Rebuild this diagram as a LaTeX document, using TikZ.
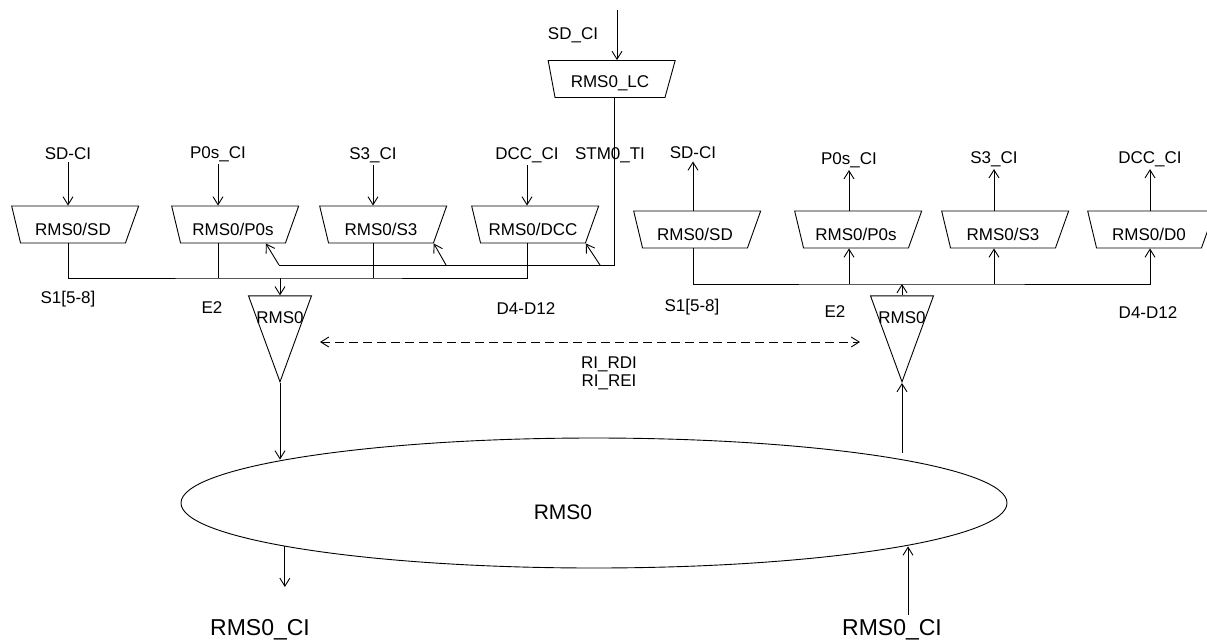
\documentclass[tikz,border=0pt]{standalone}
\usepackage{fontspec}
\setmainfont{Liberation Sans}
\usetikzlibrary{shapes.geometric,arrows.meta}
\newcommand{\lbl}{\fontsize{17pt}{18pt}\selectfont}
\newcommand{\midlbl}{\fontsize{21pt}{22pt}\selectfont}
\newcommand{\biglbl}{\fontsize{23pt}{24pt}\selectfont}
\newcommand{\mtxt}[1]{\makebox[0pt]{#1}}
\tikzset{
  mux/.style={draw,trapezium,shape border rotate=180,trapezium stretches body=true,
    trapezium left angle=59,trapezium right angle=68,minimum width=127pt,
    minimum height=37pt,inner sep=0pt,text height=22pt,text depth=0pt,font=\lbl},
  tri/.style={draw,isosceles triangle,shape border rotate=270,anchor=apex,
    isosceles triangle stretches=true,minimum width=63pt,minimum height=86pt,
    inner sep=0pt},
  sig/.style={font=\lbl,inner sep=2pt},
  big/.style={font=\biglbl,inner sep=0pt},
  arr/.style={-{Straight Barb[length=8pt,width=10pt]}},
  darr/.style={{Straight Barb[length=8pt,width=10pt]}-{Straight Barb[length=8pt,width=10pt]},
    dash pattern=on 9pt off 5pt},
}
\begin{document}
\begin{tikzpicture}[x=1pt,y=-1pt,line width=0.9pt]
\useasboundingbox (0,0) rectangle (1207,643);

% local control
\node[sig] (topin) at (573,35) {SD\_CI};
\node[mux,text height=17pt] (llc) at (610,79) {\mtxt{RMS0\_LC}};
\coordinate (lctop) at (617,10);

% left side
\node[sig] (lsdin) at (68,154) {SD-CI};
\node[sig] (lp0sin) at (218,154) {P0s\_CI};
\node[sig] (ls3in) at (373,155) {S3\_CI};
\node[sig] (ldccin) at (527,155) {DCC\_CI};
\node[sig] (stm) at (610,155) {STM0\_TI};
\node[mux] (lsd) at (73,224.5) {\mtxt{RMS0/SD}};
\node[mux] (lp0s) at (233,224.5) {\mtxt{RMS0/P0s}};
\node[mux] (ls3) at (381,224.5) {\mtxt{RMS0/S3}};
\node[mux] (ldcc) at (533,224.5) {\mtxt{RMS0/DCC}};
\node[sig] (ls1) at (68,299) {S1[5-8]};
\node[sig] (le2) at (212,308) {E2};
\node[sig] (ld4) at (526,309) {D4-D12};
\node[tri,label={[font=\lbl,inner sep=0pt,anchor=north,yshift=-16pt]90:RMS0}] (ltri) at (280,383) {};
\coordinate (lbus) at (280,278);
\coordinate (fbe) at (614,265);
\coordinate (fbw) at (279,265);
\coordinate (fb3) at (446,265);
\coordinate (fbd) at (600,265);

% right side
\node[sig] (rsdout) at (693,153) {SD-CI};
\node[sig] (rp0sout) at (849,160) {P0s\_CI};
\node[sig] (rs3out) at (994,159) {S3\_CI};
\node[sig] (rdcout) at (1150,159) {DCC\_CI};
\node[mux] (rsd) at (695,229.5) {\mtxt{RMS0/SD}};
\node[mux] (rp0s) at (856,229.5) {\mtxt{RMS0/P0s}};
\node[mux] (rs3) at (1003,229.5) {\mtxt{RMS0/S3}};
\node[mux] (rd0) at (1149,229.5) {\mtxt{RMS0/D0}};
\node[sig] (rs1) at (692,307) {S1[5-8]};
\node[sig] (re2) at (835,312) {E2};
\node[sig] (rd4) at (1148,313) {D4-D12};
\node[tri,label={[font=\lbl,inner sep=0pt,anchor=north,yshift=-16pt]90:RMS0}] (rtri) at (902,383) {};
\coordinate (rbus) at (902,284);

% ring
\coordinate (dl) at (320,342);
\coordinate (dr) at (860,342);
\node[sig,align=center,font=\fontsize{17pt}{18pt}\selectfont] (ri) at (609,373) {RI\_RDI\\RI\_REI};
\node[draw,ellipse,minimum width=826pt,minimum height=130pt,inner sep=0pt,
  label={[font=\midlbl,xshift=-31pt,yshift=-9pt]center:RMS0}] (ring) at (594,503) {};
\coordinate (lend) at (286,587);
\coordinate (rup) at (902,453);
\coordinate (rstart) at (908,615);
\node[big] (lout) at (260,630) {RMS0\_CI};
\node[big] (rout) at (892,630) {RMS0\_CI};

\draw[arr] (lctop) -- (lctop |- llc.90);
\draw[arr] (lsdin.south) -- (lsdin |- lsd.90);
\draw[arr] (lp0sin.south) -- (lp0sin |- lp0s.90);
\draw[arr] (ls3in.south) -- (ls3in |- ls3.90);
\draw[arr] (ldccin.south) -- (ldccin |- ldcc.90);
\draw (lsdin |- lsd.-90) |- (lbus) -| (ldccin |- ldcc.-90);
\draw (lp0sin |- lp0s.-90) -- (lp0sin |- lbus);
\draw (ls3in |- ls3.-90) -- (ls3in |- lbus);
\draw[arr] (lbus) -- (ltri.90);
\draw (llc.-90 -| fbe) -- (fbe) -- (fbw);
\draw[arr] (fbw) -- (lp0s.-30);
\draw[arr] (fb3) -- (ls3.top left corner);
\draw[arr] (fbd) -- (ldcc.top left corner);
\draw[arr] (ltri.apex) -- (ltri.apex |- ring.172.4);
\draw[arr] (ring.188) -- (ring.188 |- lend);
\draw[darr] (dl) -- (dr);

\draw[arr] (rup) -- (rtri.apex);
\draw[arr] (rtri.90) -- (rbus);
\draw[arr] (rsdout |- rsd.-90) |- (rbus) -| (rdcout |- rd0.-90);
\draw[arr] (rp0sout |- rbus) -- (rp0sout |- rp0s.-90);
\draw[arr] (rs3out |- rbus) -- (rs3out |- rs3.-90);
\draw[arr] (rsdout |- rsd.90) -- (rsdout.south);
\draw[arr] (rp0sout |- rp0s.90) -- (rp0sout.south);
\draw[arr] (rs3out |- rs3.90) -- (rs3out.south);
\draw[arr] (rdcout |- rd0.90) -- (rdcout.south);
\draw[arr] (rstart) -- (rstart |- ring.352.4);
\end{tikzpicture}
\end{document}
